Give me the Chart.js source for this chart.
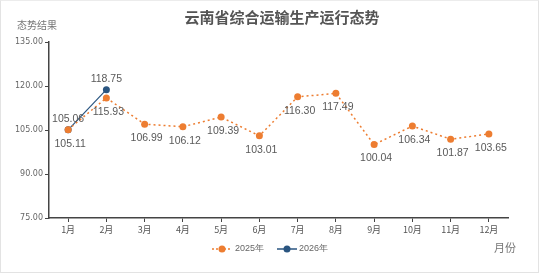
<!DOCTYPE html>
<html>
<head>
<meta charset="utf-8">
<script src="https://cdn.jsdelivr.net/npm/chart.js@4.4.1/dist/chart.umd.min.js"></script>
<style>
  body { margin: 0; background: #fff; }
  #wrap { position: relative; width: 537px; height: 271px; border: 1px solid #e3e3e3; border-top-color: #ececec; }
  #c { position: absolute; left: -1px; top: -1px; }
</style>
</head>
<body>
<div id="wrap"><canvas id="c" width="541" height="275"></canvas></div>
<script>
const months = ["1月", "2月", "3月", "4月", "5月", "6月", "7月", "8月", "9月", "10月", "11月", "12月"];
const y2025 = [105.11, 115.93, 106.99, 106.12, 109.39, 103.01, 116.30, 117.49, 100.04, 106.34, 101.87, 103.65];
const y2026 = [105.06, 118.75];
const yTicks = [75, 90, 105, 120, 135];

const orange = "#ED7D31";
const blue = "#2A5580";
const cjk = "'Noto Sans CJK SC', 'Noto Sans', sans-serif";

// labels, titles and legend drawn straight on the canvas
const extras = {
  id: "extras",
  afterDatasetsDraw(chart) {
    const ctx = chart.ctx;
    ctx.save();
    ctx.font = "10.5px 'Liberation Sans', sans-serif";
    ctx.fillStyle = "#595959";
    ctx.textAlign = "center";
    ctx.textBaseline = "middle";
    chart.getDatasetMeta(0).data.forEach((p, i) => {
      ctx.fillText(y2025[i].toFixed(2), p.x + 2, p.y + 14);
    });
    chart.getDatasetMeta(1).data.forEach((p, i) => {
      ctx.fillText(y2026[i].toFixed(2), p.x, p.y - 11);
    });

    ctx.font = "bold 15px " + cjk;
    ctx.fillStyle = "#555";
    ctx.fillText("云南省综合运输生产运行态势", 282, 17);

    ctx.font = "10px " + cjk;
    ctx.fillStyle = "#777";
    ctx.textAlign = "left";
    ctx.fillText("态势结果", 17, 25);
    ctx.font = "11px " + cjk;
    ctx.fillText("月份", 494, 248);

    // legend
    ctx.font = "9px 'Liberation Sans', sans-serif";
    ctx.fillStyle = "#666";
    ctx.lineWidth = 1.5;
    ctx.strokeStyle = orange;
    ctx.setLineDash([2, 2]);
    ctx.beginPath(); ctx.moveTo(212, 249); ctx.lineTo(232, 249); ctx.stroke();
    ctx.setLineDash([]);
    ctx.fillStyle = orange;
    ctx.beginPath(); ctx.arc(222, 249, 3.5, 0, Math.PI * 2); ctx.fill();
    ctx.fillStyle = "#666";
    ctx.fillText("2025年", 235, 249);
    ctx.strokeStyle = blue;
    ctx.beginPath(); ctx.moveTo(277, 249); ctx.lineTo(297, 249); ctx.stroke();
    ctx.fillStyle = blue;
    ctx.beginPath(); ctx.arc(287, 249, 3.5, 0, Math.PI * 2); ctx.fill();
    ctx.fillStyle = "#666";
    ctx.fillText("2026年", 299, 249);
    ctx.restore();
  }
};

new Chart(document.getElementById("c"), {
  type: "line",
  data: {
    labels: months,
    datasets: [
      {
        label: "2025年",
        data: y2025,
        borderColor: orange,
        backgroundColor: orange,
        borderWidth: 1.5,
        borderDash: [2, 3],
        pointRadius: 3.5,
        pointBorderWidth: 0,
        tension: 0,
      },
      {
        label: "2026年",
        data: y2026,
        borderColor: blue,
        backgroundColor: blue,
        borderWidth: 1.2,
        pointRadius: 3.5,
        pointBorderWidth: 0,
        tension: 0,
      },
    ],
  },
  options: {
    responsive: false,
    animation: false,
    layout: { padding: { top: 42, right: 33, bottom: 27, left: 0 } },
    plugins: { legend: { display: false }, tooltip: { enabled: false } },
    scales: {
      x: {
        offset: true,
        grid: { drawOnChartArea: false, drawTicks: true, tickLength: 4, color: "#444" },
        border: { color: "#444", width: 1.5 },
        ticks: { color: "#555", font: { size: 9, family: cjk }, padding: 2 },
        afterFit: (s) => { s.height = 30; },
      },
      y: {
        min: 75,
        max: 135,
        afterBuildTicks: (s) => { s.ticks = yTicks.map((v) => ({ value: v })); },
        grid: { drawOnChartArea: false, drawTicks: true, tickLength: 4, color: "#444" },
        border: { color: "#444", width: 1.5 },
        ticks: { color: "#666", font: { size: 8, family: "'DejaVu Sans', sans-serif" }, padding: 2, callback: (v) => v.toFixed(2) },
        afterFit: (s) => { s.width = 49; },
      },
    },
  },
  plugins: [extras],
});
</script>
</body>
</html>
